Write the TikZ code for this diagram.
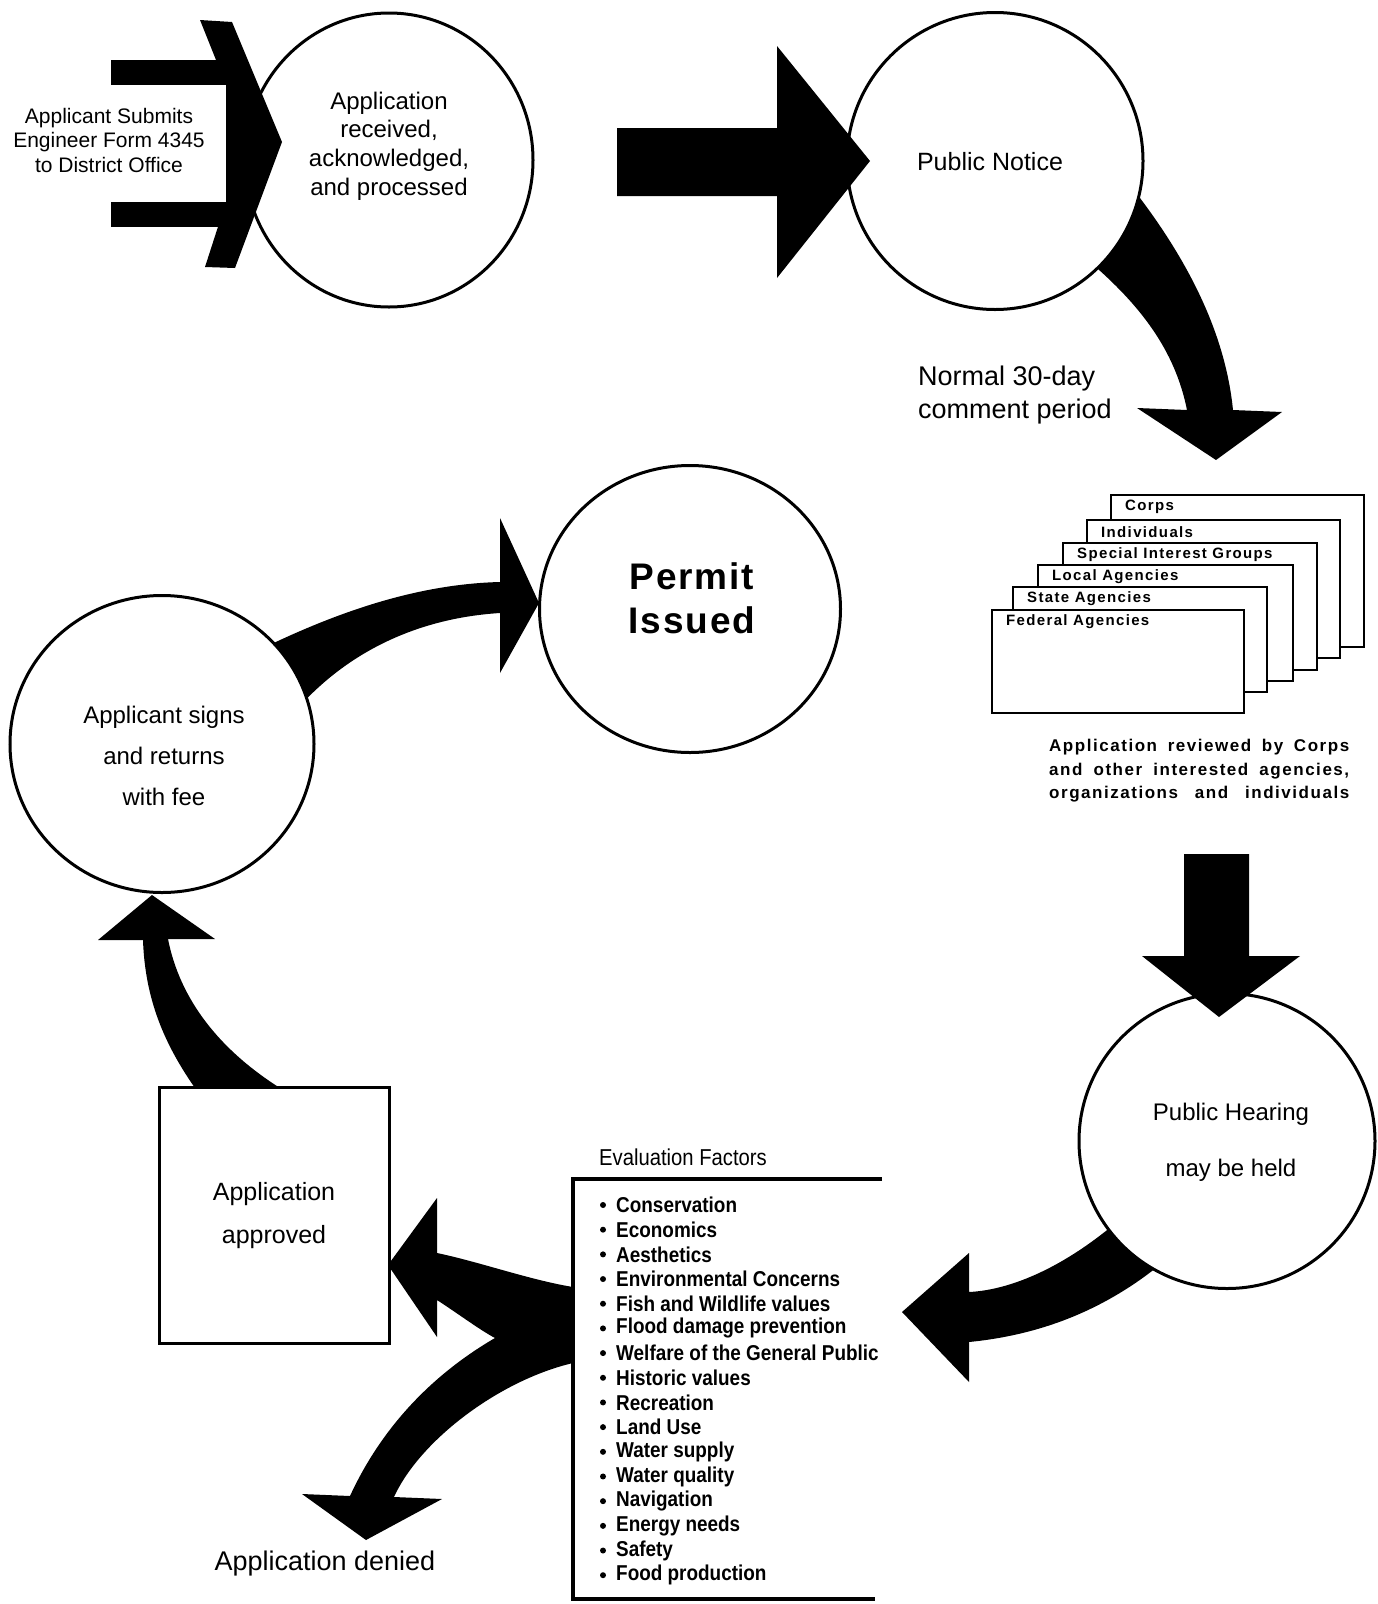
\documentclass[tikz,border=0pt]{standalone}
\usepackage{fontspec}
\setmainfont{Liberation Sans}
\newfontfamily\narrowfont[FakeStretch=0.88]{Liberation Sans}
\newfontfamily\spacedfont[LetterSpace=9]{Liberation Sans}
\usetikzlibrary{shapes.geometric}
\tikzset{
  stage/.style={ellipse,draw,line width=3pt,fill=white,inner sep=0pt},
  txt/.style={inner sep=0pt,align=center},
  card/.style={draw,line width=2.2pt,fill=white},
  fsz/.style 2 args={font=\fontsize{#1}{#2}\selectfont}
}
\begin{document}
\begin{tikzpicture}[x=1pt,y=-1pt]
\useasboundingbox (0,0) rectangle (1377,1604);
\fill (1130,185) .. controls (1185,255) and (1225,330) .. (1233,410) -- (1282,412) -- (1216,460) -- (1137,408) -- (1187,410)
  .. controls (1175,350) and (1140,305) .. (1090,262) -- cycle;
\fill (1125,1215) .. controls (1065,1268) and (1010,1290) .. (969,1292) -- (969,1253) -- (902,1312) -- (969,1382) -- (969,1342)
  .. controls (1040,1335) and (1110,1310) .. (1175,1252) -- cycle;
\fill (255,652) .. controls (340,610) and (420,584) .. (500,582) -- (500,518) -- (539,603) -- (500,673) -- (500,613)
  .. controls (420,618) and (350,650) .. (298,708) -- cycle;
\node[stage,minimum width=288pt,minimum height=294pt] (recv) at (389,160) {};
\node[stage,minimum width=296pt,minimum height=297pt] (notice) at (995,161) {};
\node[stage,minimum width=296pt,minimum height=295pt] (hearing) at (1227,1141) {};
\node[stage,minimum width=304pt,minimum height=297pt] (signs) at (162,744) {};
\node[stage,minimum width=301pt,minimum height=287pt] (permit) at (690,609) {};
\fill (111,60) rectangle (230,85);
\fill (111,202) rectangle (230,227);
\fill (200,20) -- (232,22) -- (282,142) -- (235,268) -- (205,267) -- (226,202) -- (226,85) -- cycle;
\fill (617,128) -- (777,128) -- (777,46) -- (870,161) -- (777,278) -- (777,196) -- (617,196) -- cycle;
\fill (1184,854) -- (1249,854) -- (1249,956) -- (1300,956) -- (1219,1017) -- (1142,956) -- (1184,956) -- cycle;
\fill (195,1088) .. controls (165,1045) and (145,1000) .. (143,940) -- (98,940) -- (152,895) -- (215,939) -- (168,939)
  .. controls (180,1000) and (220,1050) .. (280,1088) -- cycle;
\fill (573,1287) .. controls (530,1280) and (480,1262) .. (437,1253) -- (437,1198) -- (388,1265) -- (437,1337) -- (437,1300)
  .. controls (460,1315) and (480,1330) .. (495,1338) .. controls (440,1370) and (385,1420) .. (350,1496)
  -- (302,1494) -- (366,1540) -- (442,1499) -- (394,1497) .. controls (420,1440) and (500,1380) .. (573,1363) -- cycle;
\node[draw,line width=3pt,minimum width=230pt,minimum height=256pt] (approved) at (274,1215) {};
\draw[line width=4pt] (882,1179) -- (573,1179) -- (573,1599) -- (875,1599);
\foreach \l/\t/\r/\b/\n in {1111/495/1364/647/Corps,1087/520/1340/658/Individuals,1063/543/1317/670/Special Interest Groups,
  1038/565/1293/681/Local Agencies,1013/587/1267/692/State Agencies,992/610/1244/713/Federal Agencies}{
  \draw[card] (\l,\t) rectangle (\r,\b);
  \node[anchor=west,inner sep=0pt,font=\spacedfont\bfseries\fontsize{15}{17}\selectfont] at (\l+14,\t+12) {\n};
}
\node[txt,fsz={21}{24.5}] (submit) at (109,140) {Applicant Submits\\Engineer Form 4345\\to District Office};
\node[txt,fsz={24}{28.6}] (recvtxt) at (389,146) {Application\\received,\\acknowledged,\\and processed};
\node[txt,fsz={25}{30}] (noticetxt) at (990,162) {Public Notice};
\node[txt,anchor=west,align=left,fsz={27}{33}] (period) at (918,395) {Normal 30-day\\comment period};
\node[txt,anchor=west,align=left,font=\spacedfont\bfseries\fontsize{17}{23.5}\selectfont] (review) at (1049,771)
  {\makebox[300pt][s]{Application reviewed by Corps}\\\makebox[300pt][s]{and other interested agencies,}\\\makebox[300pt][s]{organizations and individuals}};
\node[txt,fsz={24}{56}] (hearingtxt) at (1231,1142) {Public Hearing\\may be held};
\node[txt,font=\narrowfont\fontsize{23}{27}\selectfont] (factors) at (683,1157) {Evaluation Factors};
\foreach \f [count=\k from 0] in {Conservation,Economics,Aesthetics,Environmental Concerns,Fish and Wildlife values,
  Flood damage prevention,Welfare of the General Public,Historic values,Recreation,Land Use,Water supply,
  Water quality,Navigation,Energy  needs,Safety,Food production}{
  \fill (603,1205+24.68*\k) circle (3);
  \node[anchor=west,inner sep=0pt,font=\narrowfont\bfseries\fontsize{21.5}{24}\selectfont] at (616,1205+24.68*\k) {\f};
}
\node[txt,fsz={25}{43}] (approvedtxt) at (274,1216) {Application\\approved};
\node[txt,fsz={27}{32}] (denied) at (325,1563) {Application denied};
\node[txt,fsz={24}{41}] (signstxt) at (164,756) {Applicant signs\\and returns\\with fee};
\node[txt,font=\bfseries\addfontfeature{LetterSpace=5}\fontsize{37}{44}\selectfont] (permittxt) at (692,598) {Permit\\Issued};
\end{tikzpicture}
\end{document}
